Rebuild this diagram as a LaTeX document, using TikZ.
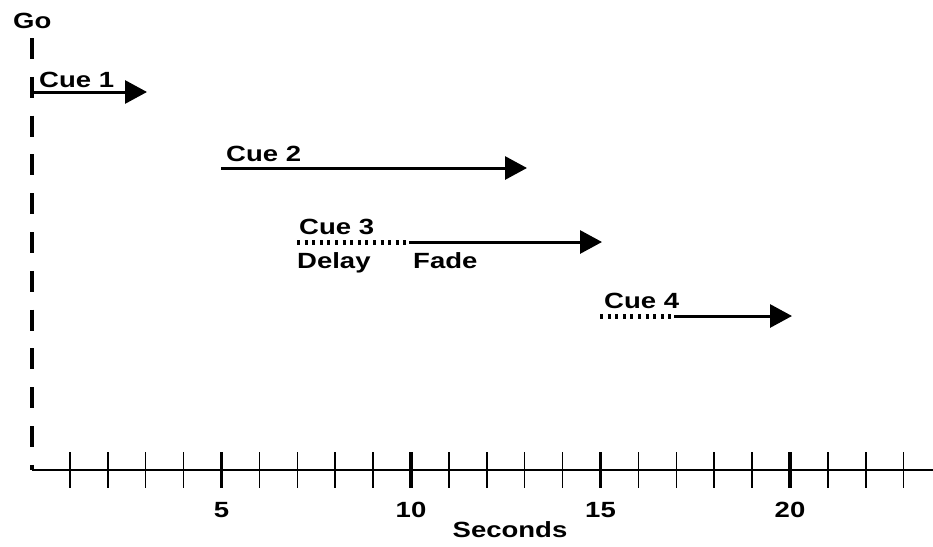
\documentclass[tikz,border=0pt]{standalone}
\usepackage{fontspec}
\newfontfamily\labfont{Liberation Sans}[FakeStretch=1.25]
\usetikzlibrary{arrows.meta}
\tikzset{
  lab/.style={inner sep=0pt, anchor=base west, font=\labfont\bfseries\fontsize{22}{22}\selectfont},
  numlab/.style={inner sep=0pt, anchor=base, font=\labfont\bfseries\fontsize{22}{22}\selectfont},
  fadearrow/.style={line width=3pt, -{Triangle[length=22pt,width=23pt]}},
  delayline/.style={line width=5pt, dash pattern=on 3pt off 4.6pt},
  goline/.style={line width=4.5pt, dash pattern=on 21pt off 17.8pt},
  axisline/.style={line width=2.5pt},
  minortick/.style={line width=1.5pt},
  majortick/.style={line width=3.5pt}
}
\begin{document}
\begin{tikzpicture}[x=1pt,y=-1pt]
\useasboundingbox (0,0) rectangle (933,546);
% Go line
\node[lab] (go) at (13,28) {Go};
\coordinate (gotop) at (32,38);
\coordinate (origin) at (32,470);
\coordinate (axisend) at (933,470);
\draw[goline] (gotop) -- (origin);
\draw[axisline] (origin) -- (axisend);
% ticks
\foreach \i in {1,...,23}{
  \coordinate (t\i a) at ({32+37.9*\i},452);
  \coordinate (t\i b) at ({32+37.9*\i},488);
}
\foreach \i in {1,2,3,4,6,7,8,9,11,12,13,14,16,17,18,19,21,22,23}{
  \draw[minortick] (t\i a) -- (t\i b);
}
\foreach \i in {5,10,15,20}{
  \draw[majortick] (t\i a) -- (t\i b);
  \node[numlab] (n\i) at ({32+37.9*\i},517) {\i};
}
\node[numlab] (sec) at (510,537) {Seconds};
% Cue 1
\coordinate (c1s) at (32,92);
\coordinate (c1e) at (147,92);
\draw[fadearrow] (c1s) -- (c1e);
\node[lab] (cue1) at (39,87) {Cue 1};
% Cue 2
\coordinate (c2s) at (221,168);
\coordinate (c2e) at (527,168);
\draw[fadearrow] (c2s) -- (c2e);
\node[lab] (cue2) at (226,161) {Cue 2};
% Cue 3
\coordinate (c3s) at (297,242);
\coordinate (c3m) at (409,242);
\coordinate (c3e) at (602,242);
\draw[delayline] (c3s) -- (c3m);
\draw[fadearrow] (c3m) -- (c3e);
\node[lab] (cue3) at (299,234) {Cue 3};
\node[lab] (delay3) at (297,268) {Delay};
\node[lab] (fade3) at (413,268) {Fade};
% Cue 4
\coordinate (c4s) at (600,316);
\coordinate (c4m) at (674,316);
\coordinate (c4e) at (792,316);
\draw[delayline] (c4s) -- (c4m);
\draw[fadearrow] (c4m) -- (c4e);
\node[lab] (cue4) at (604,308) {Cue 4};
\end{tikzpicture}
\end{document}
